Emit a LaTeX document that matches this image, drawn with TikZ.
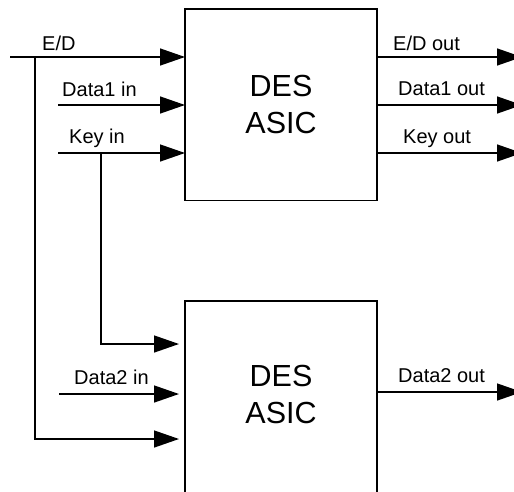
\documentclass[tikz,border=0pt]{standalone}
\usepackage{fontspec}
\setmainfont{Liberation Sans}
\usetikzlibrary{arrows.meta}
\begin{document}
\begin{tikzpicture}[x=1pt,y=-1pt,
  wire/.style={line width=1.4pt},
  sig/.style={wire,-{Triangle[length=25pt,width=17pt]}},
  asic/.style={draw,line width=1.4pt,minimum width=192pt,inner sep=0pt,outer sep=0pt},
  bigtxt/.style={font=\fontsize{30.5}{37}\selectfont,align=center},
  lbl/.style={font=\fontsize{20}{23}\selectfont,anchor=base west,inner sep=0pt}]
\useasboundingbox (0,0) rectangle (514,491);
% boxes
\node[asic,minimum height=191.5pt] (b1) at (281,104.75) {};
\node[bigtxt] (t1) at (281,104) {DES\\ASIC};
\node[asic,minimum height=220pt] (b2) at (281,411) {};
\node[bigtxt] (t2) at (281,394) {DES\\ASIC};
% input start points
\coordinate (edS) at (10,57);
\coordinate (edJ) at (35,57);
\coordinate (d1S) at (58,105);
\coordinate (kS) at (58,153);
\coordinate (kJ) at (101,153);
\coordinate (d2S) at (59,394);
% input targets
\coordinate (edT) at (b1.west |- edS);
\coordinate (d1T) at (b1.west |- d1S);
\coordinate (kT) at (b1.west |- kS);
\coordinate (k2T) at ([xshift=-6pt]b2.west |- 0,344);
\coordinate (d2T) at ([xshift=-6pt]b2.west |- d2S);
\coordinate (ed2T) at ([xshift=-6pt]b2.west |- 0,439);
% inputs
\draw[sig] (edS) -- (edT);
\draw[sig] (d1S) -- (d1T);
\draw[sig] (kS) -- (kT);
\draw[sig] (kJ) |- (k2T);
\draw[sig] (d2S) -- (d2T);
\draw[sig] (edJ) |- (ed2T);
% outputs
\coordinate (edO) at (522,57);
\coordinate (d1O) at (522,105);
\coordinate (kO) at (522,153);
\coordinate (d2O) at (522,392);
\draw[sig] (b1.east |- edO) -- (edO);
\draw[sig] (b1.east |- d1O) -- (d1O);
\draw[sig] (b1.east |- kO) -- (kO);
\draw[sig] (b2.east |- d2O) -- (d2O);
% labels
\node[lbl] (l1) at (42,50) {E/D};
\node[lbl] (l2) at (62,96) {Data1 in};
\node[lbl] (l3) at (69,143) {Key in};
\node[lbl] (l4) at (74,384) {Data2 in};
\node[lbl] (l5) at (393,50) {E/D out};
\node[lbl] (l6) at (398,95) {Data1 out};
\node[lbl] (l7) at (403,143) {Key out};
\node[lbl] (l8) at (398,382) {Data2 out};
\end{tikzpicture}
\end{document}
